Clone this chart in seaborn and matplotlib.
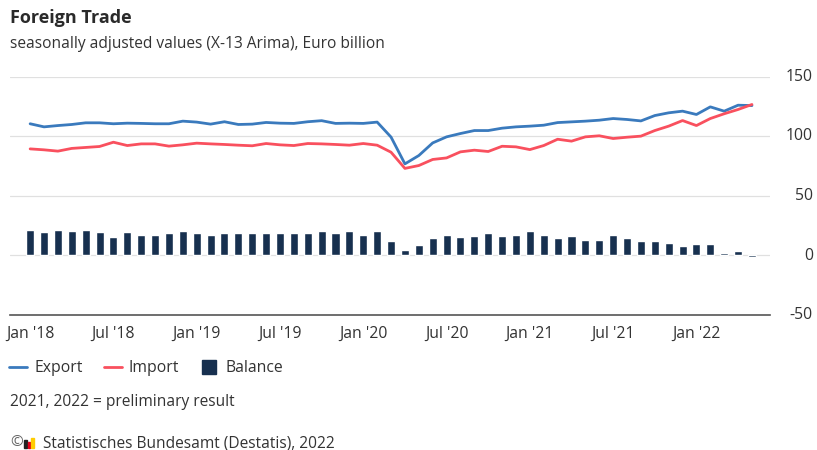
import numpy as np
import pandas as pd
import matplotlib.pyplot as plt
from matplotlib.lines import Line2D
from matplotlib.patches import Rectangle
import seaborn as sns

# monthly values Jan 2018 - May 2022, Euro billion
export = [110.7, 108.1, 109.2, 110.1, 111.5, 111.5, 110.7, 111.2, 111.0, 110.7, 110.7, 112.9,
          112.1, 110.4, 112.4, 110.1, 110.4, 111.8, 111.2, 111.0, 112.4, 113.3, 111.0, 111.2,
          111.0, 112.1, 99.5, 77.0, 84.0, 94.6, 99.7, 102.5, 105.0, 105.0, 107.0, 108.1,
          108.7, 109.5, 111.7, 112.3, 112.9, 113.7, 115.1, 114.3, 113.1, 117.6, 119.9, 121.3,
          118.5, 124.9, 121.3, 126.3, 126.0]
imports = [89.6, 88.8, 87.7, 90.0, 90.8, 91.6, 95.2, 92.4, 93.8, 93.8, 91.9, 93.0,
           94.4, 93.8, 93.3, 92.7, 92.2, 94.1, 93.0, 92.4, 94.1, 93.8, 93.3, 92.7,
           94.1, 92.7, 86.8, 73.2, 75.6, 80.7, 82.0, 87.1, 88.5, 87.4, 91.8, 91.3,
           89.0, 92.4, 97.7, 96.1, 99.7, 100.6, 98.3, 99.4, 100.3, 105.0, 108.7, 113.4,
           109.2, 115.1, 119.1, 122.7, 126.9]
balance = [21.3, 19.6, 21.3, 20.4, 21.3, 19.6, 15.4, 19.6, 17.6, 17.6, 18.5, 20.4,
           18.5, 17.4, 19.3, 18.5, 19.3, 18.5, 19.3, 19.3, 19.3, 20.4, 18.5, 20.4,
           17.4, 20.4, 12.6, 4.5, 8.7, 14.3, 17.4, 15.7, 16.2, 18.5, 16.2, 17.4,
           20.4, 17.4, 14.6, 16.2, 13.2, 13.2, 17.4, 14.6, 12.6, 12.6, 10.4, 7.6,
           9.5, 9.5, 2.0, 3.6, -1.1]
months = pd.date_range('2018-01-01', periods=len(export), freq='MS')
tick_labels = ["Jan '18", "Jul '18", "Jan '19", "Jul '19", "Jan '20",
               "Jul '20", "Jan '21", "Jul '21", "Jan '22"]
y_ticks = [-50, 0, 50, 100, 150]

df = pd.DataFrame({'month': months, 'pos': np.arange(len(months)),
                   'Export': export, 'Import': imports, 'Balance': balance})

c_exp = '#3a7abd'
c_imp = '#f9505e'
c_bal = '#17304f'
txt = '#333333'

sns.set_style('white')
plt.rcParams['font.family'] = ['Open Sans', 'DejaVu Sans']

fig = plt.figure(figsize=(8.17, 4.5), dpi=100)
ax = fig.add_axes([10 / 817, 1 - 315 / 450, 760 / 817, 238 / 450])

for y in y_ticks[1:]:
    ax.axhline(y, color='#e0e0e0', lw=0.9, zorder=0)

sns.barplot(data=df, x='pos', y='Balance', color=c_bal, width=0.58,
            saturation=1, ax=ax, zorder=2)
sns.lineplot(data=df, x='pos', y='Export', color=c_exp, lw=2, ax=ax, zorder=3)
sns.lineplot(data=df, x='pos', y='Import', color=c_imp, lw=2, ax=ax, zorder=3)

ax.set_xlim(-1.45, 53.3)
ax.set_ylim(-50, 150)
ax.set_xlabel('')
ax.set_ylabel('')

ax.set_xticks(np.arange(0, 49, 6))
ax.set_xticklabels(tick_labels, color=txt, fontsize=11.3)
ax.set_xticks(np.arange(0, 54), minor=True)
ax.tick_params(axis='x', which='major', length=5, width=1, color='#777777', pad=3)
ax.tick_params(axis='x', which='minor', length=3, width=0.8, color='#999999')

# y labels on the right, right-aligned
ax.set_yticks(y_ticks)
ax.set_yticklabels([])
ax.tick_params(axis='y', length=0)
for y in y_ticks:
    ax.text(1 + 43 / 760, y, str(y), transform=ax.get_yaxis_transform(),
            ha='right', va='center', fontsize=11.3, color=txt)

for s in ['top', 'left', 'right']:
    ax.spines[s].set_visible(False)
ax.spines['bottom'].set_color('#555555')
ax.spines['bottom'].set_linewidth(1.2)

fig.text(10 / 817, 1 - 18 / 450, 'Foreign Trade', fontsize=13, fontweight='bold',
         color='#2a2a2a', va='center')
fig.text(10 / 817, 1 - 44 / 450, 'seasonally adjusted values (X-13 Arima), Euro billion',
         fontsize=11.2, color=txt, va='center')

handles = [Line2D([], [], color=c_exp, lw=2),
           Line2D([], [], color=c_imp, lw=2),
           Line2D([], [], color=c_bal, marker='s', ls='', ms=10.5)]
fig.legend(handles, ['Export', 'Import', 'Balance'], loc='center left',
           bbox_to_anchor=(9 / 817, 1 - 368 / 450), ncol=3, frameon=False,
           fontsize=11.3, handlelength=1.15, handletextpad=0.45, columnspacing=1.35,
           labelcolor=txt, borderpad=0, borderaxespad=0)

fig.text(10 / 817, 1 - 402 / 450, '2021, 2022 = preliminary result', fontsize=11.2,
         color=txt, va='center')
fig.text(10 / 817, 1 - 443 / 450, '©', fontsize=11, color='#666666', va='center')
for i, c in enumerate(['#222222', '#e2001a', '#ffcc00']):
    h = [8, 6, 10][i]
    fig.add_artist(Rectangle(((24 + i * 3.5) / 817, 1 - 448 / 450), 2.5 / 817, h / 450,
                             transform=fig.transFigure, color=c))
fig.text(43 / 817, 1 - 443 / 450, 'Statistisches Bundesamt (Destatis), 2022',
         fontsize=11.2, color=txt, va='center')

fig.savefig('out.png', dpi=100)
